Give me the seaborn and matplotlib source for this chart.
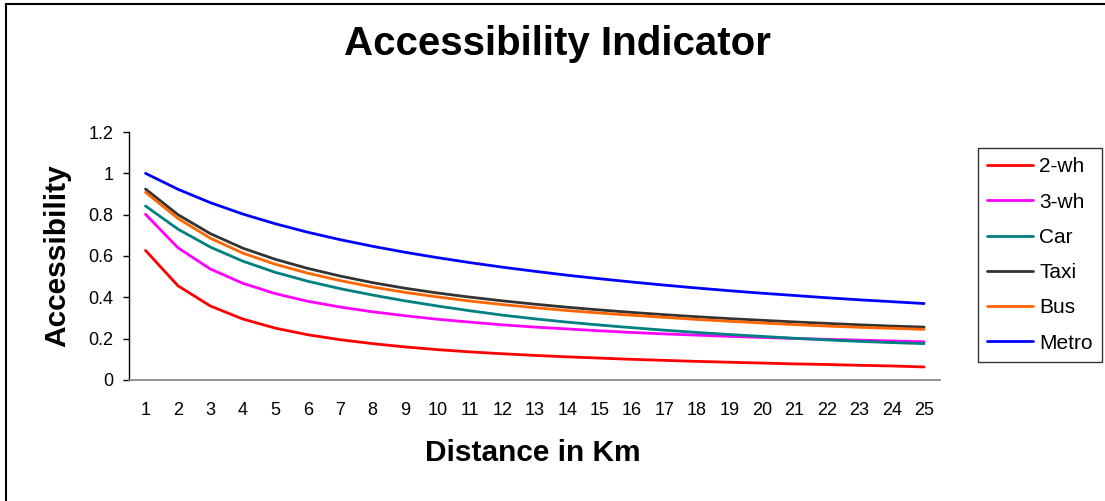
import matplotlib
matplotlib.use("Agg")
import matplotlib.pyplot as plt
from matplotlib.patches import Rectangle
from matplotlib.ticker import FixedLocator, FormatStrFormatter
import pandas as pd
import seaborn as sns

# values
distance_km = list(range(1, 26))
two_wh = [0.627, 0.456, 0.358, 0.295, 0.251, 0.219, 0.195, 0.176, 0.160, 0.147, 0.136, 0.127, 0.119,
          0.112, 0.106, 0.100, 0.095, 0.090, 0.086, 0.082, 0.078, 0.075, 0.071, 0.068, 0.063]
three_wh = [0.802, 0.640, 0.537, 0.468, 0.418, 0.381, 0.353, 0.330, 0.311, 0.294, 0.280, 0.267, 0.256,
            0.247, 0.238, 0.230, 0.223, 0.217, 0.211, 0.206, 0.201, 0.197, 0.193, 0.189, 0.185]
car = [0.842, 0.730, 0.643, 0.575, 0.521, 0.478, 0.442, 0.411, 0.383, 0.358, 0.335, 0.314, 0.296,
       0.280, 0.266, 0.253, 0.241, 0.230, 0.220, 0.211, 0.202, 0.194, 0.187, 0.181, 0.176]
taxi = [0.924, 0.800, 0.708, 0.638, 0.584, 0.540, 0.503, 0.471, 0.444, 0.421, 0.401, 0.383, 0.367,
        0.352, 0.339, 0.327, 0.316, 0.306, 0.297, 0.289, 0.281, 0.274, 0.267, 0.261, 0.256]
bus = [0.908, 0.782, 0.686, 0.614, 0.560, 0.517, 0.481, 0.450, 0.424, 0.402, 0.382, 0.365, 0.350,
       0.336, 0.324, 0.313, 0.303, 0.293, 0.284, 0.276, 0.268, 0.261, 0.255, 0.250, 0.245]
metro = [1.000, 0.923, 0.858, 0.803, 0.756, 0.715, 0.679, 0.647, 0.618, 0.592, 0.568, 0.546, 0.526,
         0.507, 0.490, 0.474, 0.459, 0.445, 0.432, 0.420, 0.409, 0.398, 0.388, 0.379, 0.370]

modes = ["2-wh", "3-wh", "Car", "Taxi", "Bus", "Metro"]
colors = ["#FF0000", "#FF00FF", "#008080", "#333333", "#FF6600", "#0000FF"]
y_ticks = [0, 0.2, 0.4, 0.6, 0.8, 1.0, 1.2]

sns.set_style("white")
plt.rcParams["font.family"] = ["Liberation Sans", "DejaVu Sans"]
plt.rcParams["text.color"] = "black"
plt.rcParams["xtick.color"] = "black"
plt.rcParams["ytick.color"] = "black"

df = pd.DataFrame({"distance": distance_km * 6,
                   "mode": [m for m in modes for _ in distance_km],
                   "value": two_wh + three_wh + car + taxi + bus + metro})

W, H = 1105, 501
fig = plt.figure(figsize=(W / 100, H / 100), dpi=100)
ax = fig.add_axes([129.3 / W, 121 / H, 811 / W, 248 / H])

sns.lineplot(data=df, x="distance", y="value", hue="mode", hue_order=modes,
             palette=dict(zip(modes, colors)), linewidth=2.0, ax=ax)

ax.set_xlim(0.5, 25.5)
ax.set_ylim(0, 1.2)
ax.set_xlabel("")
ax.set_ylabel("")

ax.xaxis.set_major_locator(FixedLocator(distance_km))
ax.xaxis.set_minor_locator(FixedLocator([x + 0.5 for x in range(0, 26)]))
ax.tick_params(axis="x", which="major", length=0, pad=16, labelsize=13)
ax.tick_params(axis="x", which="minor", length=4.5, width=1, color="#333333", direction="out")
ax.yaxis.set_major_locator(FixedLocator(y_ticks))
ax.yaxis.set_major_formatter(FormatStrFormatter("%g"))
ax.tick_params(axis="y", length=4.5, width=1, color="black", direction="out", pad=7, labelsize=13,
               left=True)

for s in ["top", "right"]:
    ax.spines[s].set_visible(False)
ax.spines["left"].set_color("black")
ax.spines["bottom"].set_color("#808080")
ax.spines["left"].set_linewidth(1)
ax.spines["bottom"].set_linewidth(1.2)

leg = ax.legend(loc="upper left", bbox_to_anchor=(978 / W, 1 - 148 / H), bbox_transform=fig.transFigure,
                borderaxespad=0, frameon=True, fancybox=False, edgecolor="black", fontsize=15,
                handlelength=2.2, handletextpad=0.3, labelspacing=0.78, borderpad=0.45)
leg.get_frame().set_linewidth(1)
for line in leg.get_lines():
    line.set_linewidth(2.0)

fig.text(557 / W, 1 - 44 / H, "Accessibility Indicator", ha="center", va="center",
         fontsize=29, fontweight="bold")
fig.text(533 / W, 1 - 453 / H, "Distance in Km", ha="center", va="center", fontsize=21.5, fontweight="bold")
fig.text(57 / W, 1 - 256 / H, "Accessibility", ha="center", va="center", rotation=90,
         fontsize=21.5, fontweight="bold")

fig.add_artist(Rectangle((6 / W, -0.2), 1.3, 1.2 - 4 / H, transform=fig.transFigure, fill=False,
                         edgecolor="black", linewidth=1.5, clip_on=False))

fig.savefig("out.png", dpi=100)
